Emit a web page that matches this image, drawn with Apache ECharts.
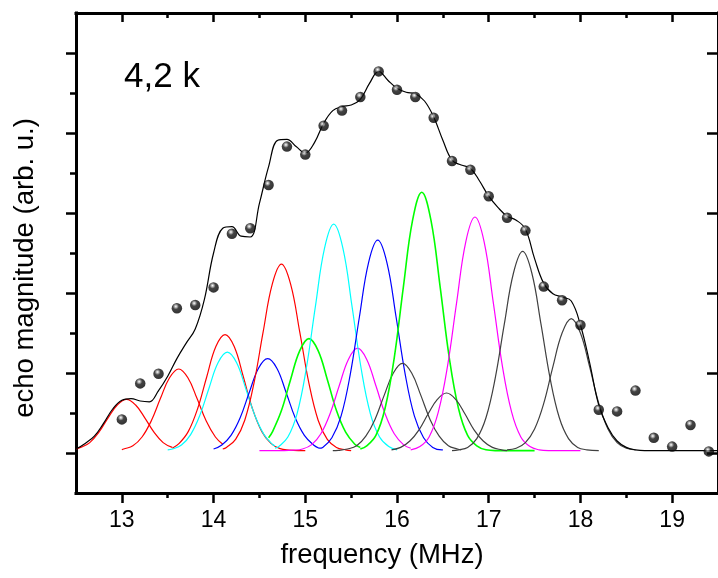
<!DOCTYPE html>
<html><head><meta charset="utf-8">
<script src="https://cdn.jsdelivr.net/npm/echarts@6/dist/echarts.min.js"></script>
<style>html,body{margin:0;padding:0;background:#fff}#c{width:718px;height:578px}</style>
</head><body><div id="c"></div>
<script>
// ---------- tick values ----------
const xMajorTicks = [13, 14, 15, 16, 17, 18, 19];
const xMinorTicks = [13.5, 14.5, 15.5, 16.5, 17.5, 18.5];
const yMajorTicks = [0, 1, 2, 3, 4, 5];
const yMinorTicks = [0.5, 1.5, 2.5, 3.5, 4.5];

// ---------- measured echo points ----------
const freqPoints = [13.0, 13.2, 13.4, 13.6, 13.8, 14.0, 14.2, 14.4, 14.6, 14.8, 15.0, 15.2, 15.4, 15.6, 15.8, 16.0, 16.2,
  16.4, 16.6, 16.8, 17.0, 17.2, 17.4, 17.6, 17.8, 18.0, 18.2, 18.4, 18.6, 18.8, 19.0, 19.2, 19.4];
const echoPoints = [0.42, 0.87, 0.99, 1.81, 1.85, 2.07, 2.74, 2.81, 3.35, 3.83, 3.73, 4.09, 4.28, 4.45, 4.77, 4.54, 4.45,
  4.19, 3.65, 3.54, 3.21, 2.94, 2.78, 2.08, 1.91, 1.60, 0.54, 0.52, 0.78, 0.19, 0.08, 0.35, 0.02];

// ---------- fit curve ----------
const fitFreq = [12.5, 12.6, 12.7, 12.8, 12.9, 13.0, 13.1, 13.2, 13.3, 13.4, 13.5, 13.6, 13.7, 13.8, 13.9, 14.0, 14.1, 14.2,
  14.3, 14.4, 14.5, 14.6, 14.7, 14.8, 14.9, 15.0, 15.1, 15.2, 15.3, 15.4, 15.5, 15.6, 15.7, 15.8, 15.9, 16.0, 16.1, 16.2,
  16.3, 16.4, 16.5, 16.6, 16.7, 16.8, 16.9, 17.0, 17.1, 17.2, 17.3, 17.4, 17.5, 17.6, 17.7, 17.8, 17.9, 18.0, 18.1, 18.2,
  18.3, 18.4, 18.5, 18.6, 18.7, 19.5];
const fitEcho = [0.05, 0.12, 0.21, 0.37, 0.55, 0.66, 0.68, 0.65, 0.64, 0.78, 0.96, 1.18, 1.37, 1.55, 1.92, 2.50, 2.81, 2.83,
  2.71, 2.70, 3.12, 3.58, 3.91, 3.92, 3.83, 3.75, 3.88, 4.12, 4.28, 4.33, 4.35, 4.42, 4.62, 4.77, 4.66, 4.56, 4.51, 4.49,
  4.40, 4.20, 3.91, 3.66, 3.60, 3.56, 3.40, 3.21, 3.07, 2.96, 2.91, 2.80, 2.43, 2.12, 1.99, 1.95, 1.90, 1.60, 1.13, 0.60,
  0.32, 0.15, 0.07, 0.04, 0.03, 0.03];

// ---------- component peaks [frequency, magnitude] ----------
const peakRed1 = [[12.5,0.05],[12.55,0.07],[12.65,0.13],[12.75,0.26],[12.85,0.44],[12.95,0.60],[13.05,0.67],[13.15,0.60],[13.25,0.44],[13.35,0.26],[13.45,0.13],[13.55,0.07]];
const peakRed2 = [[13.0,0.04],[13.02,0.05],[13.12,0.09],[13.22,0.20],[13.32,0.40],[13.42,0.68],[13.52,0.94],[13.62,1.05],[13.72,0.94],[13.82,0.68],[13.92,0.40],[14.02,0.20],[14.1,0.11]];
const peakRed3 = [[13.55,0.06],[13.625,0.12],[13.725,0.27],[13.825,0.55],[13.925,0.95],[14.025,1.33],[14.125,1.48],[14.225,1.33],[14.325,0.95],[14.425,0.55],[14.525,0.27],[14.625,0.12],[14.725,0.055],[14.825,0.036],[14.925,0.03],[15.0,0.03]];
const peakCyan1 = [[13.5,0.04],[13.55,0.05],[13.65,0.10],[13.75,0.23],[13.85,0.47],[13.95,0.81],[14.05,1.13],[14.15,1.26],[14.25,1.13],[14.35,0.81],[14.45,0.47],[14.55,0.23],[14.65,0.10],[14.67,0.09]];
const peakBlue1 = [[14.0,0.05],[14.09,0.10],[14.19,0.22],[14.29,0.44],[14.39,0.76],[14.49,1.06],[14.59,1.18],[14.69,1.06],[14.79,0.76],[14.89,0.44],[14.99,0.22],[15.09,0.10],[15.15,0.06]];
const peakRed4 = [[14.1,0.05],[14.14,0.07],[14.24,0.17],[14.34,0.41],[14.44,0.87],[14.54,1.51],[14.64,2.11],[14.74,2.36],[14.84,2.11],[14.94,1.51],[15.04,0.87],[15.14,0.41],[15.24,0.17],[15.34,0.07],[15.44,0.04],[15.5,0.03]];
const peakGreen1 = [[14.6,0.19],[14.64,0.26],[14.74,0.53],[14.84,0.92],[14.94,1.28],[15.04,1.43],[15.14,1.28],[15.24,0.92],[15.34,0.53],[15.44,0.26],[15.54,0.11],[15.6,0.07]];
const peakMagenta1 = [[14.5,0.03],[14.77,0.03],[14.87,0.035],[14.97,0.05],[15.07,0.105],[15.17,0.24],[15.27,0.49],[15.37,0.84],[15.47,1.17],[15.57,1.31],[15.67,1.17],[15.77,0.84],[15.87,0.49],[15.97,0.24],[16.07,0.105],[16.15,0.06]];
const peakCyan2 = [[14.67,0.06],[14.71,0.08],[14.81,0.20],[14.91,0.49],[15.01,1.05],[15.11,1.83],[15.21,2.56],[15.31,2.86],[15.41,2.56],[15.51,1.83],[15.61,1.05],[15.71,0.49],[15.81,0.20],[15.91,0.08],[16.0,0.04]];
const peakBlue2 = [[15.15,0.06],[15.19,0.07],[15.29,0.19],[15.39,0.46],[15.49,0.98],[15.59,1.70],[15.69,2.38],[15.79,2.66],[15.89,2.38],[15.99,1.70],[16.09,0.98],[16.19,0.46],[16.29,0.19],[16.39,0.07],[16.49,0.04],[16.5,0.04]];
const peakGray1 = [[15.3,0.03],[15.36,0.034],[15.46,0.05],[15.56,0.09],[15.66,0.21],[15.76,0.42],[15.86,0.72],[15.96,1.00],[16.06,1.12],[16.16,1.00],[16.26,0.72],[16.36,0.42],[16.46,0.21],[16.56,0.09],[16.66,0.05],[16.7,0.04]];
const peakGreen2 = [[15.6,0.05],[15.67,0.09],[15.77,0.22],[15.87,0.56],[15.97,1.19],[16.07,2.08],[16.17,2.91],[16.27,3.26],[16.37,2.91],[16.47,2.08],[16.57,1.19],[16.67,0.56],[16.77,0.22],[16.87,0.09],[16.97,0.04],[17.07,0.03],[17.5,0.03]];
const peakGray2 = [[15.94,0.04],[16.04,0.07],[16.14,0.15],[16.24,0.29],[16.34,0.49],[16.44,0.67],[16.54,0.75],[16.64,0.67],[16.74,0.49],[16.84,0.29],[16.94,0.15],[17.04,0.07],[17.14,0.04],[17.2,0.03]];
const peakMagenta2 = [[16.15,0.04],[16.25,0.08],[16.35,0.20],[16.45,0.51],[16.55,1.08],[16.65,1.88],[16.75,2.64],[16.85,2.95],[16.95,2.64],[17.05,1.88],[17.15,1.08],[17.25,0.51],[17.35,0.20],[17.45,0.08],[17.55,0.04],[17.65,0.03],[18.0,0.03]];
const peakGray3 = [[16.6,0.03],[16.67,0.04],[16.77,0.07],[16.87,0.18],[16.97,0.44],[17.07,0.93],[17.17,1.61],[17.27,2.25],[17.37,2.52],[17.47,2.25],[17.57,1.61],[17.67,0.93],[17.77,0.44],[17.87,0.18],[17.97,0.07],[18.07,0.04],[18.2,0.03]];
const peakGray4 = [[17.2,0.04],[17.3,0.06],[17.4,0.13],[17.5,0.30],[17.6,0.62],[17.7,1.08],[17.8,1.50],[17.9,1.68],[18.0,1.50],[18.1,1.08],[18.2,0.62],[18.3,0.30],[18.4,0.13],[18.5,0.06],[18.6,0.04]];

const components = [
  [peakRed1, '#ff0000'], [peakRed2, '#ff0000'], [peakRed3, '#ff0000'], [peakCyan1, '#00ffff'],
  [peakBlue1, '#0000ff'], [peakRed4, '#ff0000'], [peakGreen1, '#00ff00'], [peakMagenta1, '#ff00ff'],
  [peakCyan2, '#00ffff'], [peakBlue2, '#0000ff'], [peakGray1, '#404040'], [peakGreen2, '#00ff00'],
  [peakGray2, '#404040'], [peakMagenta2, '#ff00ff'], [peakGray3, '#404040'], [peakGray4, '#404040']
];

const FONT = '"Liberation Sans", Arial, sans-serif';
const X_MIN = 12.5, X_MAX = 19.5, Y_MIN = -0.5, Y_MAX = 5.5;
const black = '#000';

function xAx(pos, ticks, len, inside, showLine, labels) {
  return {
    type: 'value', min: X_MIN, max: X_MAX, position: pos, splitLine: {show: false},
    axisLine: {show: showLine, onZero: false, lineStyle: {color: black, width: 3, cap: 'square'}},
    axisTick: {show: true, customValues: ticks, length: len, inside: inside, lineStyle: {color: black, width: 2.5}},
    axisLabel: labels ? {show: true, customValues: ticks, margin: 16, fontSize: 23, fontFamily: FONT, color: black} : {show: false}
  };
}
function yAx(pos, ticks, len, inside, showLine) {
  return {
    type: 'value', min: Y_MIN, max: Y_MAX, position: pos, splitLine: {show: false},
    axisLine: {show: showLine, onZero: false, lineStyle: {color: black, width: 3, cap: 'square'}},
    axisTick: {show: true, customValues: ticks, length: len, inside: inside, lineStyle: {color: black, width: 2.5}},
    axisLabel: {show: false}
  };
}

const series = components.map(([d, c]) => ({
  type: 'line', data: d, smooth: 0.4, showSymbol: false, symbol: 'none', silent: true,
  lineStyle: {color: c, width: c === '#00ff00' ? 1.6 : 1.2}, z: 2
}));
series.push({
  type: 'line', data: fitFreq.map((f, i) => [f, fitEcho[i]]), smooth: 0.4, showSymbol: false, symbol: 'none',
  lineStyle: {color: '#000', width: 1.2}, z: 3
});
series.push({
  type: 'scatter', data: freqPoints.map((f, i) => [f, echoPoints[i]]), symbol: 'circle', symbolSize: 10.5, z: 5,
  itemStyle: {color: {type: 'radial', x: 0.4, y: 0.33, r: 0.68,
    colorStops: [{offset: 0, color: '#ffffff'}, {offset: 0.15, color: '#b0b0b0'}, {offset: 0.42, color: '#151515'}, {offset: 1, color: '#000'}]}}
});

const chart = echarts.init(document.getElementById('c'), null, {renderer: 'canvas'});
chart.setOption({
  animation: false,
  backgroundColor: '#fff',
  grid: {left: 76, top: 13, right: -6, bottom: 85, containLabel: false},
  xAxis: [
    xAx('bottom', xMajorTicks, 10, false, true, true),
    xAx('bottom', xMinorTicks, 5, false, false, false),
    xAx('top', xMajorTicks, 9, true, true, false),
    xAx('top', xMinorTicks, 5, true, false, false)
  ],
  yAxis: [
    yAx('left', yMajorTicks, 10, false, true),
    yAx('left', yMinorTicks, 6, false, false),
    yAx('right', yMajorTicks, 11, true, true)
  ],
  series: series,
  graphic: [
    {type: 'text', x: 124, y: 77, style: {text: '4,2 k', font: '35px ' + FONT, fill: black, align: 'left', verticalAlign: 'middle'}},
    {type: 'text', x: 382, y: 555, style: {text: 'frequency (MHz)', font: '27.5px ' + FONT, fill: black, align: 'center', verticalAlign: 'middle'}},
    {type: 'text', x: 25, y: 268, rotation: Math.PI / 2, style: {text: 'echo magnitude (arb. u.)', font: '27.5px ' + FONT, fill: black, align: 'center', verticalAlign: 'middle'}}
  ]
});
</script></body></html>
